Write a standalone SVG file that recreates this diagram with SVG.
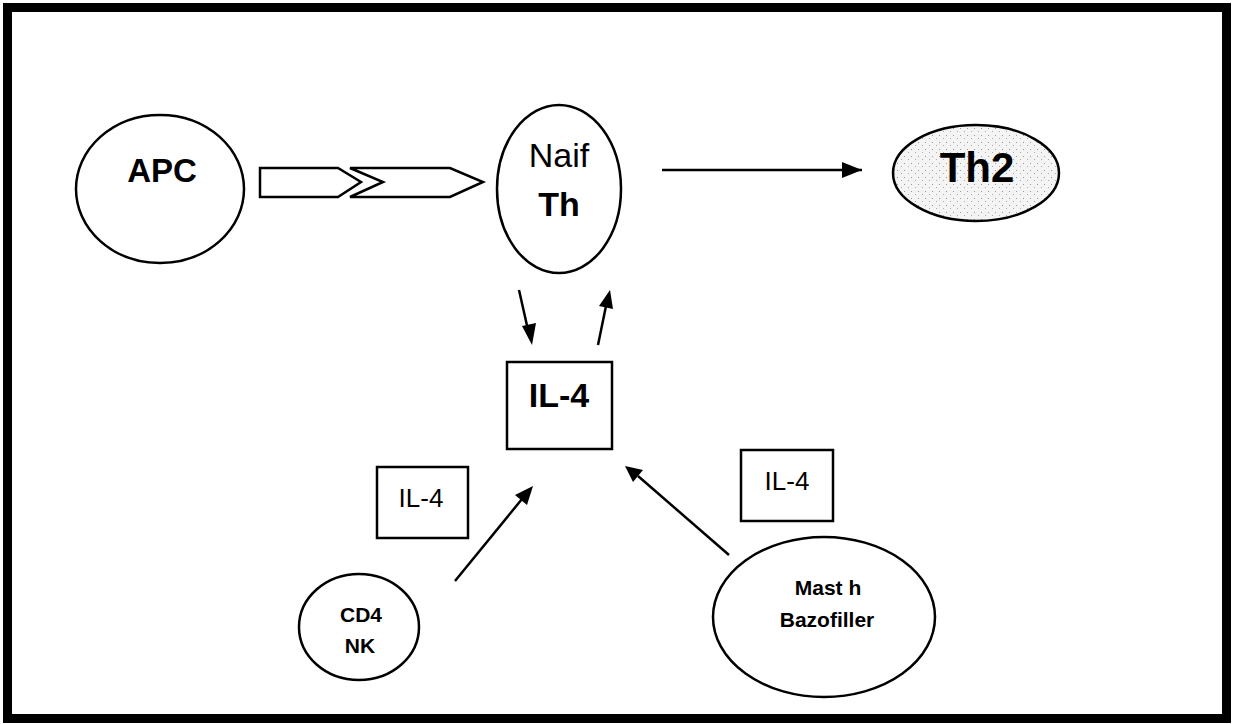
<svg xmlns="http://www.w3.org/2000/svg" width="1235" height="724" viewBox="0 0 1235 724">
<style>
.shape{fill:#fff;stroke:#000;stroke-width:2.5}
.line{stroke:#000;stroke-width:2.5;fill:none}
.t{font-family:"Liberation Sans",Arial,sans-serif;text-anchor:middle;fill:#000}
.b{font-weight:bold}
</style>
<defs>
<marker id="ah" viewBox="0 0 10 10" refX="9" refY="5" markerWidth="7" markerHeight="7" markerUnits="userSpaceOnUse" orient="auto" style="overflow:visible">
<path d="M0,0 L10,5 L0,10 z" fill="#000" transform="scale(1.6) translate(-4,-2)"/>
</marker>
<pattern id="dots" width="7" height="7" patternUnits="userSpaceOnUse">
<rect width="7" height="7" fill="#f4f4f4"/>
<rect x="1" y="2" width="1" height="1" fill="#999"/>
<rect x="5" y="5" width="1" height="1" fill="#aaa"/>
</pattern>
</defs>
<rect x="0" y="0" width="1235" height="724" fill="#fff"/>
<rect x="7.5" y="7.5" width="1219" height="711" fill="none" stroke="#000" stroke-width="9"/>

<g id="connectors">
<polygon class="shape" points="260,168 338,168 361,182 338,197 260,197"/>
<polygon class="shape" points="350,168 450,168 483,182 450,197 350,197 383,182"/>
<line class="line" x1="662" y1="170" x2="862" y2="170"/>
<polygon points="862,170 842,162 842,178" fill="#000"/>
<line class="line" x1="519" y1="290" x2="528" y2="330"/>
<polygon points="532,345 522,326 536,323" fill="#000"/>
<line class="line" x1="598" y1="345" x2="606" y2="306"/>
<polygon points="610,290 613,309 599,306" fill="#000"/>
<line class="line" x1="455" y1="581" x2="522" y2="499"/>
<polygon points="533,486 527,505 515,495" fill="#000"/>
<line class="line" x1="729" y1="555" x2="638" y2="476"/>
<polygon points="625,466 643,470 633,482" fill="#000"/>
</g>

<g id="apc">
<ellipse class="shape" cx="160" cy="189" rx="84" ry="74"/>
<text class="t b" x="162" y="182" font-size="33">APC</text>
</g>
<g id="naif-th">
<ellipse class="shape" cx="559" cy="189" rx="62" ry="84"/>
<text class="t" x="559" y="167" font-size="34">Naif</text>
<text class="t b" x="559" y="216" font-size="34">Th</text>
</g>
<g id="th2">
<ellipse cx="976" cy="173" rx="83" ry="48" fill="url(#dots)" stroke="#000" stroke-width="2.5"/>
<text class="t b" x="977" y="182" font-size="42">Th2</text>
</g>
<g id="il4-main">
<rect class="shape" x="507" y="362" width="105" height="87"/>
<text class="t b" x="559" y="407" font-size="34">IL-4</text>
</g>
<g id="il4-left">
<rect class="shape" x="377" y="467" width="91" height="71"/>
<text class="t" x="421" y="507" font-size="26">IL-4</text>
</g>
<g id="il4-right">
<rect class="shape" x="741" y="450" width="92" height="71"/>
<text class="t" x="787" y="490" font-size="26">IL-4</text>
</g>
<g id="cd4-nk">
<ellipse class="shape" cx="359" cy="627" rx="60" ry="53"/>
<text class="t b" x="361" y="622" font-size="21">CD4</text>
<text class="t b" x="360" y="653" font-size="21">NK</text>
</g>
<g id="mast">
<ellipse class="shape" cx="824" cy="617" rx="111" ry="80"/>
<text class="t b" x="828" y="595" font-size="21">Mast h</text>
<text class="t b" x="827" y="627" font-size="21">Bazofiller</text>
</g>
</svg>
